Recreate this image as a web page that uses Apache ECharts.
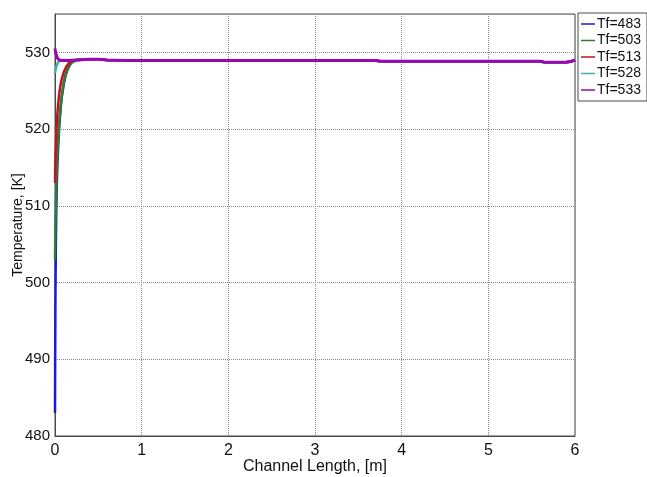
<!DOCTYPE html>
<html>
<head>
<meta charset="utf-8">
<script src="https://cdn.jsdelivr.net/npm/echarts@6/dist/echarts.min.js"></script>
<style>
html,body{margin:0;padding:0;background:#fff;}
#chart{width:647px;height:477px;}
</style>
</head>
<body>
<div id="chart"></div>
<script>
// Channel length sample points [m]
var xs = [0, 0.002, 0.005, 0.01, 0.015, 0.02, 0.03, 0.04, 0.05, 0.06, 0.07, 0.08, 0.1, 0.12, 0.14, 0.16, 0.18, 0.2, 0.25, 0.3, 0.4, 0.5, 0.6, 0.8, 1, 1.5, 2, 2.5, 3, 3.5, 3.7, 3.75, 4, 4.5, 5, 5.5, 5.6, 5.65, 5.9, 5.95, 6];
// shared downstream (converged) temperature, from x = 0.25 onwards
var tail = [529.0, 529.05, 529.1, 529.1, 529.0, 528.95, 528.95, 528.95, 528.95, 528.95, 528.95, 528.95, 528.95, 528.85, 528.85, 528.85, 528.85, 528.85, 528.85, 528.7, 528.7, 528.8, 529.0];

var names = ['Tf=483', 'Tf=503', 'Tf=513', 'Tf=528', 'Tf=533'];
var colors = ['#1a1ad6', '#2e7d32', '#c0141a', '#3fb3aa', '#9a08b4'];

var t483 = [483, 490, 498, 505, 509.5, 512.5, 516, 518.5, 520.5, 522, 523.3, 524.3, 525.8, 526.9, 527.6, 528.1, 528.5, 528.8].concat(tail);
var t503 = [503, 505, 507.5, 510.5, 512.8, 514.5, 517.3, 519.4, 521, 522.4, 523.6, 524.5, 526, 527, 527.7, 528.2, 528.6, 528.85].concat(tail);
var t513 = [513, 514.3, 516, 518, 519.5, 520.7, 522.4, 523.7, 524.7, 525.5, 526.1, 526.6, 527.4, 527.9, 528.3, 528.6, 528.8, 528.95].concat(tail);
var t528 = [527.3, 527.45, 527.65, 527.9, 528.1, 528.3, 528.6, 528.8, 528.9, 528.95, 529.0, 529.0, 529.0, 529.0, 529.0, 529.0, 529.0, 529.0].concat(tail);
var t533 = [530.5, 530.4, 530.1, 529.85, 529.65, 529.5, 529.2, 529.1, 529.0, 528.95, 528.95, 528.95, 528.95, 528.95, 528.95, 528.95, 528.95, 529.0].concat(tail);

var seriesValues = [t483, t503, t513, t528, t533];
var yTicks = [480, 490, 500, 510, 520, 530];
var xTicks = [0, 1, 2, 3, 4, 5, 6];

function pairs(ys) {
  return xs.map(function (x, i) { return [x, ys[i]]; });
}

var FONT = '"Liberation Sans", Arial, sans-serif';
var chart = echarts.init(document.getElementById('chart'), null, {renderer: 'canvas'});
chart.setOption({
  animation: false,
  backgroundColor: '#ffffff',
  color: colors,
  grid: {
    left: 55, right: 72, top: 14, bottom: 41,
    show: true, borderColor: '#4a4a4a', borderWidth: 1,
    containLabel: false, outerBoundsMode: 'none'
  },
  legend: {
    orient: 'vertical',
    left: 578, top: 13,
    padding: [4, 6, 4, 3],
    itemGap: 2.5,
    itemWidth: 14, itemHeight: 1.5,
    icon: 'rect',
    borderColor: '#4a4a4a', borderWidth: 1,
    backgroundColor: '#fff',
    textStyle: {fontFamily: FONT, fontSize: 14, color: '#111', lineHeight: 14, padding: [0, 0, 0, -3]},
    data: names
  },
  xAxis: {
    type: 'value', min: xTicks[0], max: xTicks[xTicks.length - 1], interval: 1,
    name: 'Channel Length, [m]', nameLocation: 'middle', nameGap: 23, nameMoveOverlap: false,
    nameTextStyle: {fontFamily: FONT, fontSize: 16, color: '#111'},
    axisLine: {show: true, onZero: false, lineStyle: {color: '#4a4a4a', width: 1}},
    axisTick: {show: false},
    axisLabel: {fontFamily: FONT, fontSize: 16, color: '#111', margin: 7},
    splitLine: {show: true, lineStyle: {type: 'dotted', color: '#8a8a8a', width: 1}}
  },
  yAxis: {
    type: 'value', min: yTicks[0], max: 535, interval: 10,
    name: 'Temperature, [K]', nameLocation: 'middle', nameGap: 30, nameRotate: 90, nameMoveOverlap: false,
    nameTextStyle: {fontFamily: FONT, fontSize: 14, color: '#111'},
    axisLine: {show: true, onZero: false, lineStyle: {color: '#4a4a4a', width: 1}},
    axisTick: {show: false},
    axisLabel: {fontFamily: FONT, fontSize: 15, color: '#111', margin: 5, showMaxLabel: false},
    splitLine: {show: true, lineStyle: {type: 'dotted', color: '#8a8a8a', width: 1}}
  },
  series: names.map(function (n, i) {
    return {
      name: n, type: 'line', data: pairs(seriesValues[i]),
      showSymbol: false, symbol: 'none', smooth: false,
      lineStyle: {width: i === 4 ? 3 : 2.5, color: colors[i]},
      itemStyle: {color: colors[i]},
      z: 2 + i
    };
  })
});
</script>
</body>
</html>
